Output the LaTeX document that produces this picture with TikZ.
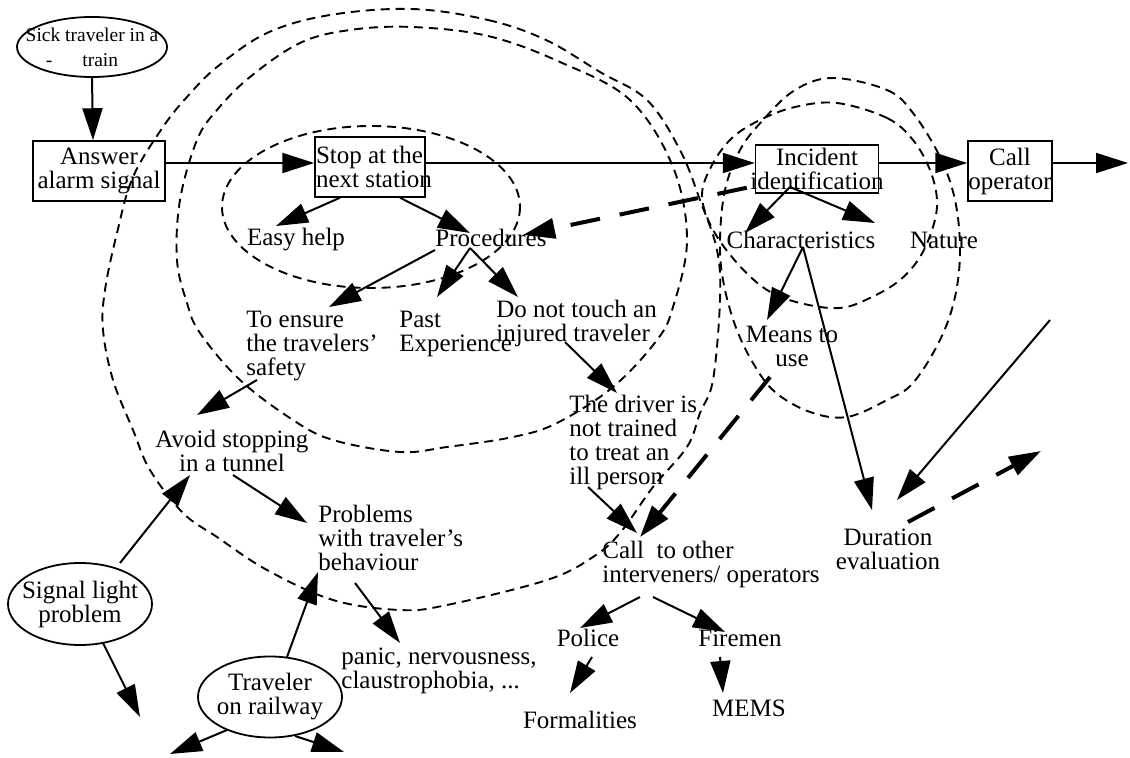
\documentclass[tikz,border=0pt]{standalone}
\usepackage{fontspec}
\setmainfont{Liberation Serif}
\usepackage{tikz}
\usetikzlibrary{arrows.meta,calc,shapes.geometric}

\begin{document}
\begin{tikzpicture}[
    x=0.5pt, y=-0.5pt,
    font=\fontsize{12.5pt}{12pt}\selectfont,
    box/.style={rectangle, draw=black, line width=0.75pt, inner sep=0pt, align=center},
    oval/.style={ellipse, draw=black, line width=0.9pt, inner xsep=-20pt, inner ysep=-12pt, align=center},
    txt/.style={inner sep=0pt, align=center},
    lefttxt/.style={inner sep=0pt, align=left, anchor=west},
    arrow/.style={-{Triangle[length=16pt,width=10pt]}, line width=1pt, black},
    dasharrow/.style={arrow, line width=2pt, dash pattern=on 15pt off 10pt},
    zone/.style={line width=0.95pt, dash pattern=on 4.5pt off 3pt}
]
\useasboundingbox (0,0) rectangle (1130,758);

\draw[zone] plot[smooth cycle, tension=0.6] coordinates {(412,9) (488,20) (546,40) (600,72) (647,100) (680,150) (700,200) (717,250) (720,300) (713,380) (700,413) (687,447) (653,487) (620,533) (593,557) (547,580) (447,605) (400,610) (333,600) (267,570) (217,537) (183,513) (150,470) (133,430) (113,380) (103,330) (105,290) (117,233) (133,177) (163,127) (187,97) (217,67) (267,33) (330,15)};
\draw[zone] plot[smooth cycle, tension=0.6] coordinates {(412,27) (488,36) (560,62) (630,100) (673,167) (687,240) (673,307) (657,340) (613,387) (557,423) (513,437) (447,447) (400,452) (333,440) (293,420) (240,380) (200,333) (187,303) (177,260) (180,200) (197,140) (217,110) (250,77) (300,43) (350,30)};
\draw[zone] (371,207) ellipse [x radius=149, y radius=81];
\draw[zone] plot[smooth cycle, tension=0.6] coordinates {(833,78) (887,90) (913,113) (940,157) (955,200) (960,250) (955,297) (940,340) (913,383) (887,400) (847,417) (810,412) (775,392) (753,363) (735,325) (723,280) (720,240) (725,190) (740,150) (763,120) (795,90)};
\draw[zone] plot[smooth cycle, tension=0.6] coordinates {(837,103) (887,118) (913,140) (930,170) (937,200) (933,227) (920,257) (900,280) (872,297) (840,308) (800,303) (767,290) (737,263) (712,228) (702,195) (712,165) (732,138) (760,120) (795,107)};

\node[oval, minimum width=75pt, minimum height=30pt, font=\fontsize{9.75pt}{12.5pt}\selectfont] (sick) at (92,47) {Sick traveler in a\\-\hspace{15pt}train\hspace*{10pt}};
\node[box, minimum width=66pt, minimum height=30pt] (answer) at (99,171) {Answer\\alarm signal};
\node[box, align=left, inner xsep=0.5pt, minimum height=30pt] (stop) at (370,167) {\makebox[54pt][l]{Stop at the}\\\makebox[54pt][l]{next station}};
\node[box, inner xsep=-10pt, minimum width=61.5pt, minimum height=24pt] (incident) at (817,169) {Incident\\identification};
\node[box, minimum width=42pt, minimum height=30pt] (callop) at (1010,171) {Call\\operator};

\node[txt] (easy) at (296,240) {Easy help};
\node[txt] (proc) at (491,238) {Procedures};
\node[lefttxt] (ensure) at (246,346) {To ensure\\the travelers'\\safety};
\node[lefttxt] (past) at (399,334) {Past\\Experience};
\node[lefttxt] (donot) at (496,323) {Do not touch an\\injured traveler};
\node[lefttxt] (driver) at (569,442) {The driver is\\not trained\\to treat an\\ill person};
\node[txt] (avoid) at (232,451) {Avoid stopping\\in a tunnel};
\node[lefttxt] (problems) at (318,538) {Problems\\with traveler's\\behaviour};
\node[lefttxt] (panic) at (341,671) {panic, nervousness,\\claustrophobia, ...};
\node[lefttxt] (call) at (602,564) {Call\ \ to other\\interveners/ operators};
\node[txt] (police) at (588,638) {Police};
\node[txt] (firemen) at (740,638) {Firemen};
\node[txt] (formal) at (580,720) {Formalities};
\node[txt] (mems) at (749,708) {MEMS};
\node[txt] (charac) at (801,240) {Characteristics};
\node[txt] (nature) at (944,240) {Nature};
\node[txt] (means) at (792,346) {Means to\\use};
\node[txt] (duration) at (888,549) {Duration\\evaluation};
\node[oval, minimum width=72pt, minimum height=41pt] (signal) at (80,604) {Signal light\\problem};
\node[oval, minimum width=72pt, minimum height=40.5pt] (railway) at (270,697) {Traveler\\on railway};

\coordinate (out) at (1128,163);
\coordinate (sigend) at (140,717);
\coordinate (rwleft) at (170,754);
\coordinate (rwright) at (344,752);
\coordinate (durin) at (1050,320);
\coordinate (durout) at (1041,451);

\draw[arrow] (sick.south) -- ($(answer.north)+(-6,0)$);
\draw[arrow] ($(answer.east)+(0,-8)$) -- ($(stop.west)+(0,-4)$);
\draw[arrow] ($(stop.east)+(0,-4)$) -- ($(incident.west)+(0,-6)$);
\draw[arrow] ($(incident.east)+(0,-6)$) -- ($(callop.west)+(0,-8)$);
\draw[arrow] ($(callop.east)+(0,-8)$) -- (out);
\draw[arrow] ($(stop.south)+(-30,0)$) -- ($(easy)+(-20,-14)$);
\draw[arrow] ($(stop.south)+(30,0)$) -- ($(proc)+(-21,-5)$);
\draw[dasharrow] ($(incident.south west)+(-8,-6)$) -- ($(proc)+(32,-3)$);
\draw[arrow] ($(proc)+(-56,12)$) -- ($(ensure.west)+(83,-39)$);
\draw[arrow] ($(proc)+(-21,10)$) -- ($(past.west)+(38,-37)$);
\draw[arrow] ($(proc)+(-21,10)$) -- ($(donot.west)+(22,-26)$);
\draw[arrow] ($(donot.west)+(69,19)$) -- ($(driver.west)+(48,-49)$);
\draw[arrow] ($(ensure.west)+(11,34)$) -- ($(avoid)+(-35,-36)$);
\draw[arrow] ($(avoid)+(1,24)$) -- ($(problems.west)+(-11,-15)$);
\draw[arrow] ($(signal)+(40,-41)$) -- ($(avoid)+(-42,24)$);
\draw[arrow] ($(signal)+(23,39)$) -- (sigend);
\draw[arrow] ($(railway)+(17,-40)$) -- ($(problems.west)+(0,34)$);
\draw[arrow] ($(railway)+(-43,33)$) -- (rwleft);
\draw[arrow] ($(railway)+(25,39)$) -- (rwright);
\draw[arrow] ($(problems.west)+(37,45)$) -- ($(panic.west)+(59,-28)$);
\draw[arrow] ($(driver.west)+(19,45)$) -- ($(call.west)+(35,-31)$);
\draw[dasharrow] ($(means)+(-22,31)$) -- ($(call.west)+(38,-27)$);
\draw[arrow] ($(call.west)+(38,33)$) -- ($(police)+(-8,-10)$);
\draw[arrow] ($(call.west)+(51,33)$) -- ($(firemen)+(-15,-6)$);
\draw[arrow] ($(police)+(4,19)$) -- ($(formal)+(-10,-27)$);
\draw[arrow] ($(firemen)+(-20,19)$) -- ($(mems)+(-26,-15)$);
\draw[arrow] ($(incident)+(-27,18)$) -- ($(charac)+(-56,-7)$);
\draw[arrow] ($(incident)+(-27,18)$) -- ($(nature)+(-69,-17)$);
\draw[arrow] ($(charac)+(2,7)$) -- ($(means)+(-25,-26)$);
\draw[arrow] ($(charac)+(2,7)$) -- ($(duration)+(-16,-39)$);
\draw[arrow] (durin) -- ($(duration)+(9,-49)$);
\draw[dasharrow] ($(duration)+(20,-27)$) -- (durout);

\end{tikzpicture}
\end{document}
